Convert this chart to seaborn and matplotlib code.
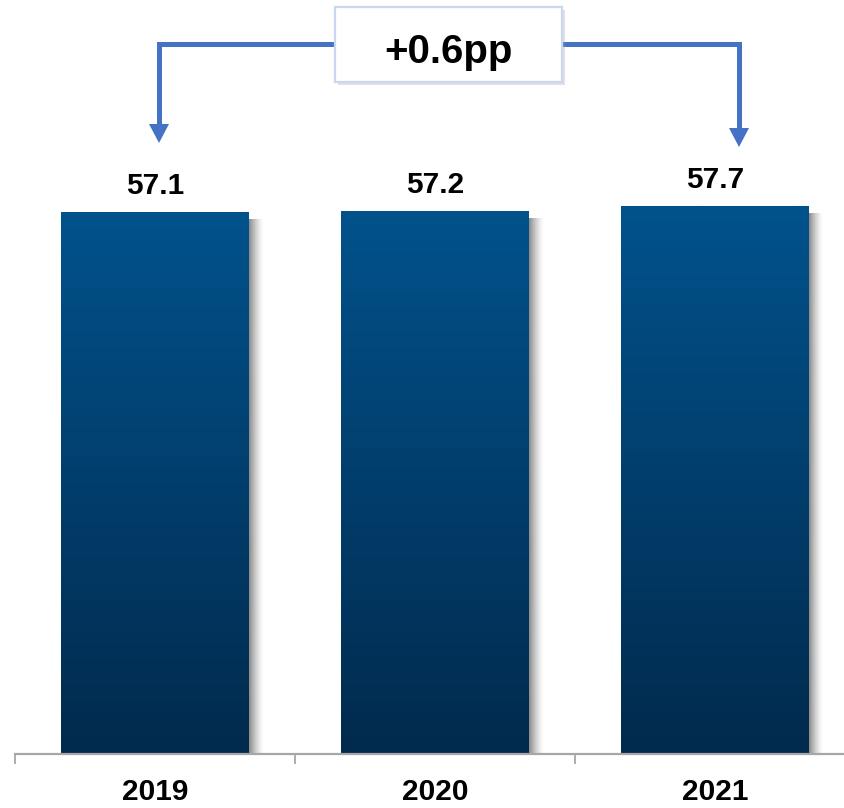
import numpy as np
import pandas as pd
import matplotlib
matplotlib.use("Agg")
import matplotlib.pyplot as plt
import seaborn as sns
from matplotlib.patches import Rectangle, Polygon
from matplotlib import patheffects as pe

# ---- data ----
years = ["2019", "2020", "2021"]
values = [57.1, 57.2, 57.7]
change_label = "+{:.1f}pp".format(values[-1] - values[0])

sns.set_theme(style="white")
plt.rcParams["font.family"] = ["Liberation Sans", "DejaVu Sans"]

W, H = 845, 808
fig = plt.figure(figsize=(W / 100, H / 100), dpi=100)
base_px = 754
ax = fig.add_axes([15 / W, (H - base_px) / H, 840 / W, base_px / H])

df = pd.DataFrame({"year": years, "value": values})
sns.barplot(data=df, x="year", y="value", width=0.668, ax=ax,
            color="#01518A", saturation=1, edgecolor="none", zorder=3)

px_per_unit = (base_px - 212) / values[0]
ymax = base_px / px_per_unit
ax.set_xlim(-0.5, 2.5)
ax.set_ylim(0, ymax)

def px2x(px):
    return (px - 15) / 280 - 0.5

def px2y(py):
    return (base_px - py) / px_per_unit

# gradient fill + soft shadow for each bar
top_c = np.array(matplotlib.colors.to_rgb("#01528C"))
bot_c = np.array(matplotlib.colors.to_rgb("#022A4D"))
grad = np.linspace(0, 1, 256)[:, None, None]
grad_img = top_c * (1 - grad) + bot_c * grad
grad_img = np.repeat(grad_img, 2, axis=1)

sh_w = 14 / 280
alpha = np.linspace(0.85, 0.0, 64) ** 1.4
sh_img = np.zeros((2, 64, 4))
sh_img[..., :3] = 0.42
sh_img[..., 3] = alpha

for p in ax.patches:
    x0, w, h = p.get_x(), p.get_width(), p.get_height()
    p.set_facecolor("none")
    im = ax.imshow(grad_img, extent=[x0, x0 + w, 0, h], aspect="auto",
                   origin="upper", zorder=3, interpolation="bilinear")
    im.set_clip_path(p)
    ax.imshow(sh_img, extent=[x0 + w, x0 + w + sh_w, -0.3, h - 7 / px_per_unit],
              aspect="auto", zorder=2, interpolation="bilinear")
    ax.text(x0 + w / 2, h + 18 / px_per_unit, "{:.1f}".format(h),
            ha="center", va="baseline", fontsize=21.5, fontweight="bold",
            color="black", zorder=5)

ax.set_aspect("auto")

# axis styling
for s in ["top", "right", "left"]:
    ax.spines[s].set_visible(False)
ax.spines["bottom"].set_color("#A6A6A6")
ax.spines["bottom"].set_linewidth(1.6)
ax.spines["bottom"].set_zorder(4)
ax.set_yticks([])
ax.set_xlabel("")
ax.set_ylabel("")
ax.set_xticks([-0.5, 0.5, 1.5, 2.5], minor=True)
ax.tick_params(axis="x", which="minor", length=7.5, width=1.3,
               color="#A6A6A6", direction="out", bottom=True)
ax.tick_params(axis="x", which="major", length=0, pad=17)
for lbl in ax.get_xticklabels():
    lbl.set_fontsize(21.5)
    lbl.set_fontweight("bold")
    lbl.set_color("black")

# connector arrows and change box
arrow_c = "#4472C4"
lw = 5 * 0.72
hy = px2y(44)
lx, rx = px2x(159), px2x(739)
bx0, bx1 = px2x(335), px2x(562)
ltip, rtip = px2y(143), px2y(147)
head_h = 19 / px_per_unit
head_w = 10 / 280

ax.plot([bx0, lx, lx], [hy, hy, ltip + head_h * 0.9], color=arrow_c,
        lw=lw, solid_joinstyle="miter", solid_capstyle="butt", zorder=4)
ax.plot([bx1, rx, rx], [hy, hy, rtip + head_h * 0.9], color=arrow_c,
        lw=lw, solid_joinstyle="miter", solid_capstyle="butt", zorder=4)
for x, tip in [(lx, ltip), (rx, rtip)]:
    ax.add_patch(Polygon([[x - head_w, tip + head_h], [x + head_w, tip + head_h],
                          [x, tip]], closed=True, facecolor=arrow_c,
                         edgecolor="none", zorder=4))

box = Rectangle((bx0, px2y(82)), bx1 - bx0, px2y(7) - px2y(82),
                facecolor="white", edgecolor="#C9D8F0", lw=1.6, zorder=5,
                clip_on=False)
box.set_path_effects([pe.SimplePatchShadow(offset=(2.5, -2.5), shadow_rgbFace="#999999",
                                           alpha=0.3), pe.Normal()])
ax.add_patch(box)
ax.text(px2x(448), px2y(63), change_label, ha="center", va="baseline",
        fontsize=29, fontweight="bold", color="black", zorder=6)

fig.savefig("out.png", dpi=100)
